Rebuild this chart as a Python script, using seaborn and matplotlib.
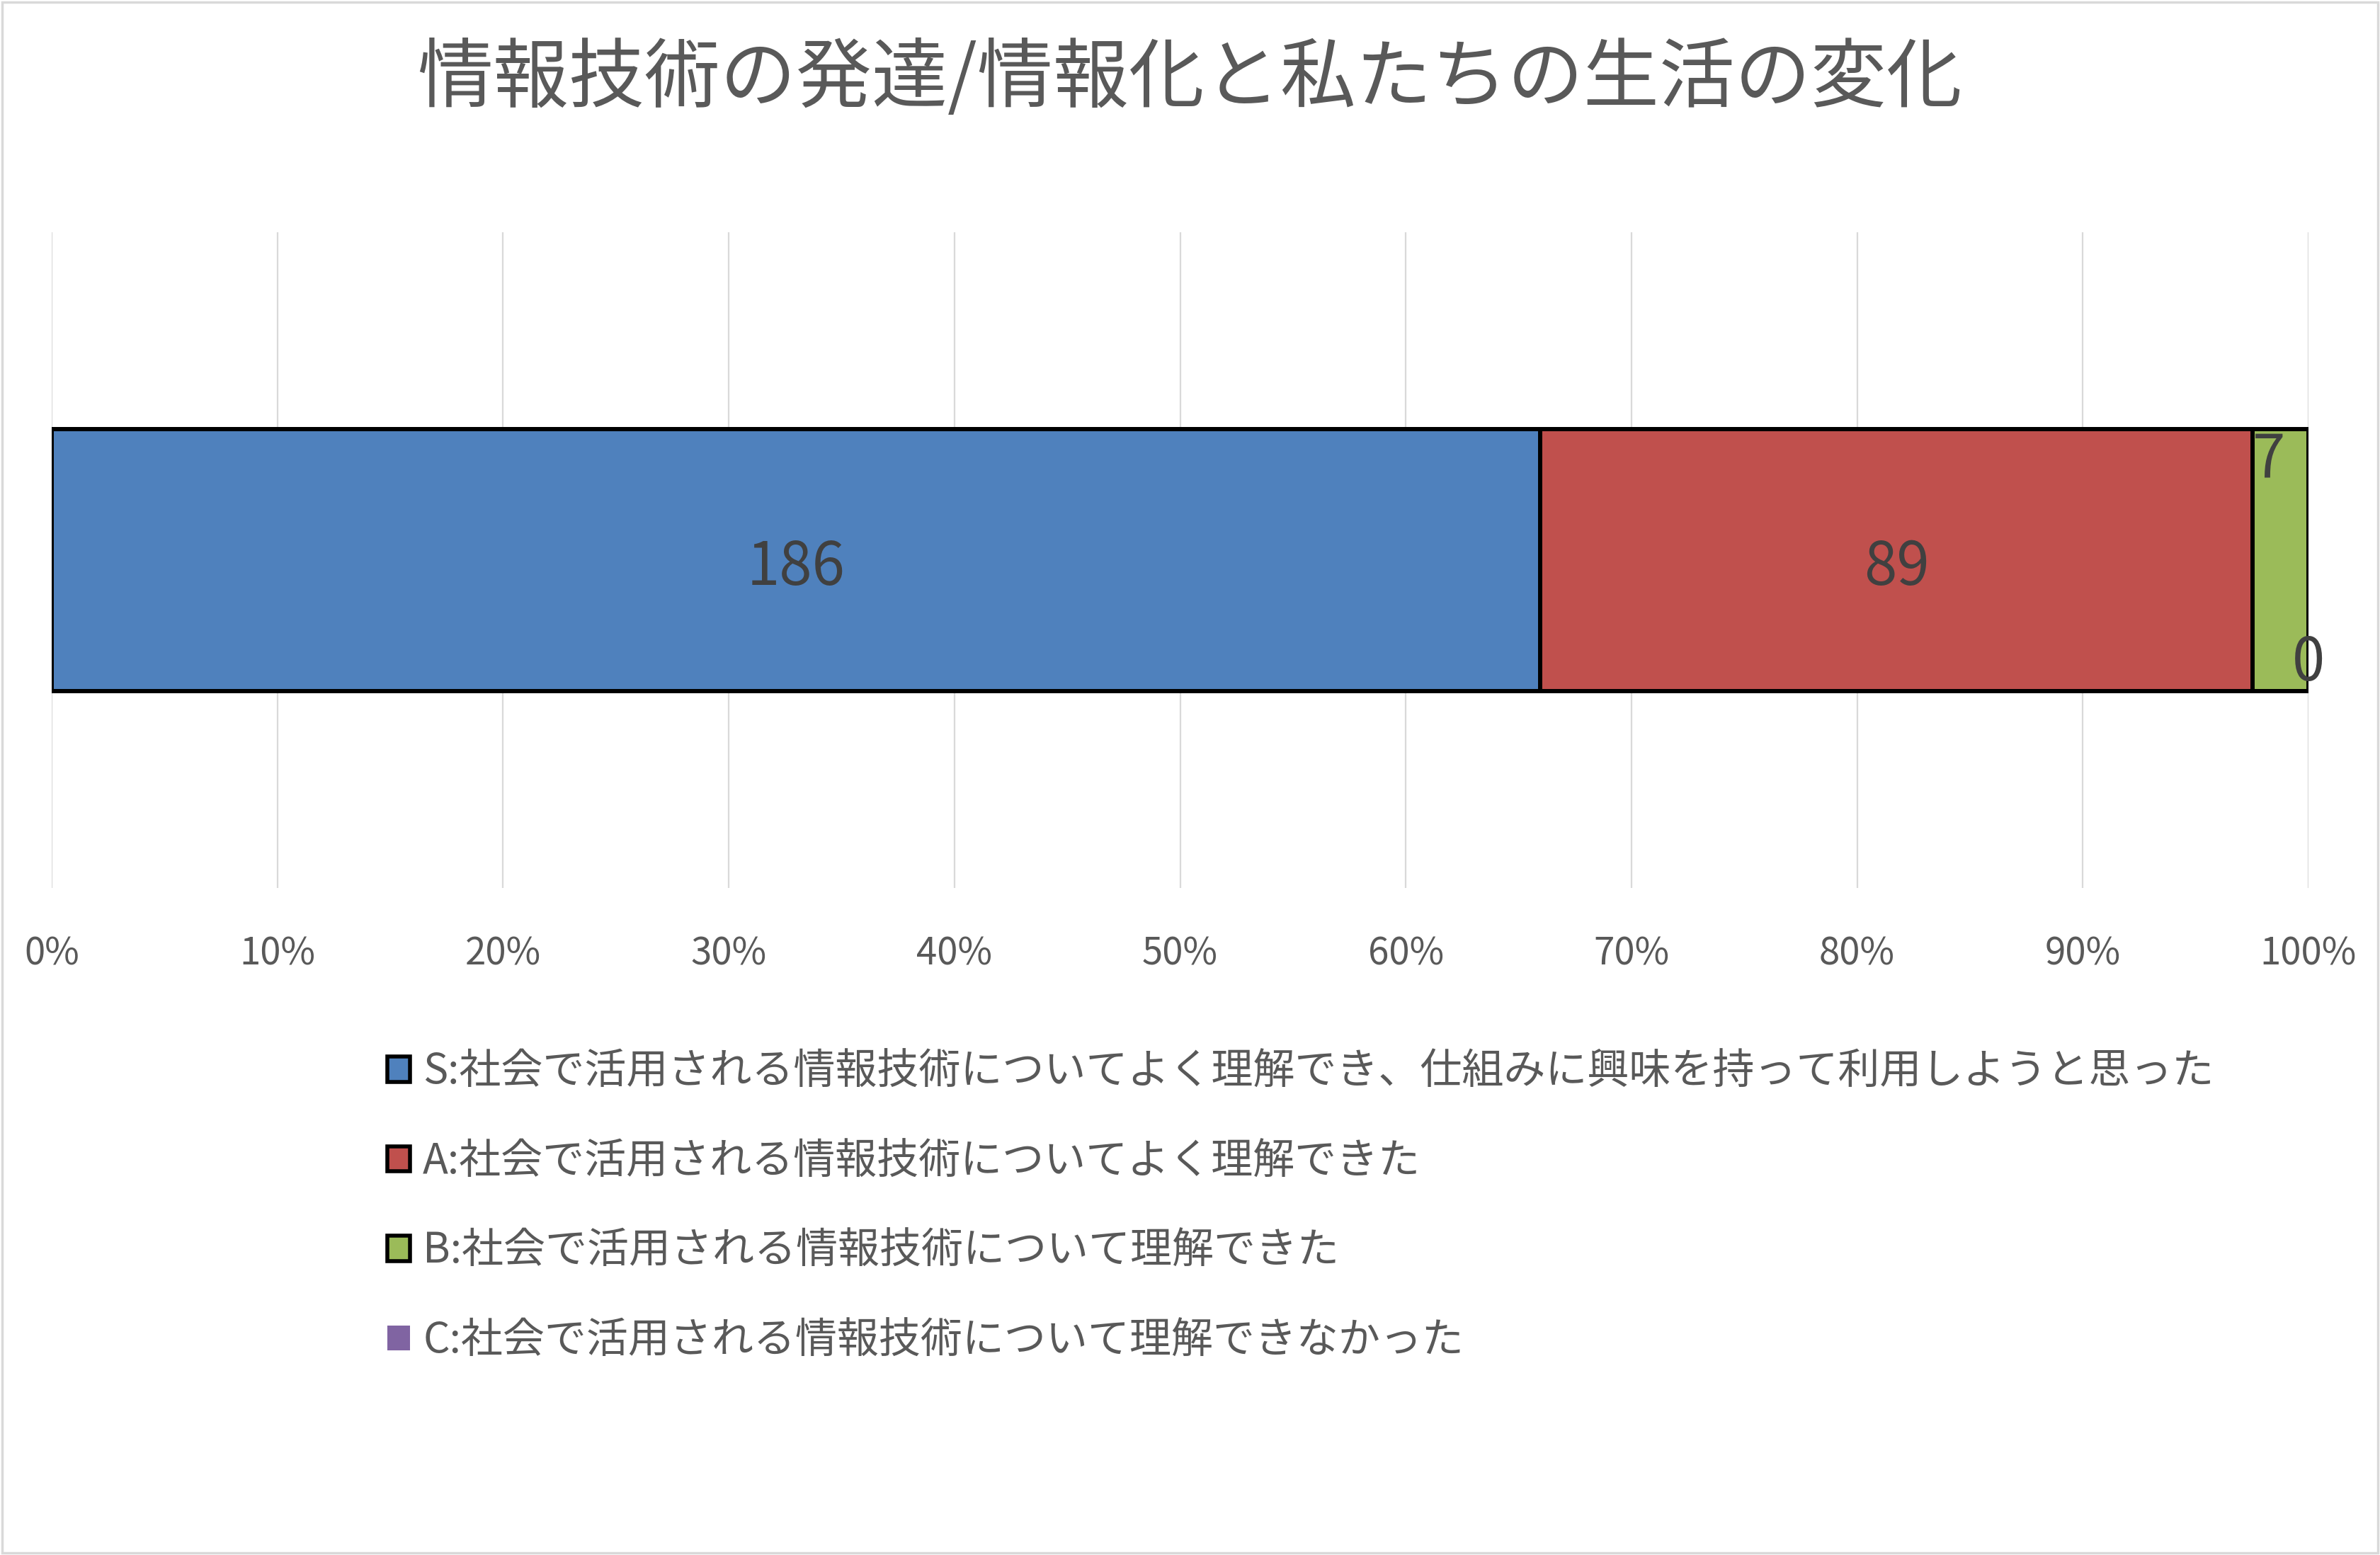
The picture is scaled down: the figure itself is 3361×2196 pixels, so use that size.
import matplotlib
matplotlib.use("Agg")
import matplotlib.pyplot as plt
import matplotlib.patches as mpatches
from matplotlib.ticker import PercentFormatter
import seaborn as sns
import numpy as np
import pandas as pd

# ---- data ----
title = "情報技術の発達/情報化と私たちの生活の変化"
series_labels = [
    "S:社会で活用される情報技術についてよく理解でき、仕組みに興味を持って利用しようと思った",
    "A:社会で活用される情報技術についてよく理解できた",
    "B:社会で活用される情報技術について理解できた",
    "C:社会で活用される情報技術について理解できなかった",
]
counts = [186, 89, 7, 0]
colors = ["#4F81BD", "#C0504D", "#9BBB59", "#8064A2"]
tick_values = [0, 10, 20, 30, 40, 50, 60, 70, 80, 90, 100]

sns.set_theme(style="white")
plt.rcParams["font.family"] = ["Noto Sans CJK JP", "DejaVu Sans"]

W, H, DPI = 3361, 2196, 100
fig = plt.figure(figsize=(W / DPI, H / DPI), dpi=DPI)
fig.patch.set_facecolor("white")

ax = fig.add_axes([73 / W, 1 - 1254 / H, (3260 - 73) / W, (1254 - 328) / H])

total = sum(counts)
props = np.array(counts) / total
cum = np.cumsum(props)
starts = cum - props

df = pd.DataFrame({"cat": [""] * len(counts), "cum": cum, "series": series_labels})

# draw cumulative bars from longest to shortest so they appear stacked
for i in reversed(range(len(counts))):
    sub = df.iloc[[i]]
    has_edge = counts[i] > 0
    sns.barplot(data=sub, x="cum", y="cat", orient="h", color=colors[i],
                saturation=1, width=0.4, ax=ax,
                edgecolor="black" if has_edge else "none",
                linewidth=4.3 if has_edge else 0)

ax.set_ylim(0.5, -0.5)
ax.set_xlim(0, 1)
ax.set_xticks(np.array(tick_values) / 100)
ax.xaxis.set_major_formatter(PercentFormatter(1.0, decimals=0))
ax.tick_params(axis="x", length=0, pad=47, labelsize=38, labelcolor="#595959")
ax.set_yticks([])
ax.set_xlabel("")
ax.set_ylabel("")
ax.grid(axis="x", color="#D9D9D9", linewidth=1.6)
ax.grid(axis="y", visible=False)
ax.set_axisbelow(True)
for s in ax.spines.values():
    s.set_visible(False)

# data labels
lab_color = "#404040"
ax.text(starts[0] + props[0] / 2, 0.012, str(counts[0]), ha="center", va="center",
        fontsize=60, color=lab_color)
ax.text(starts[1] + props[1] / 2, 0.012, str(counts[1]), ha="center", va="center",
        fontsize=60, color=lab_color)
ax.text(starts[2], -0.2, str(counts[2]), ha="left", va="top",
        fontsize=60, color=lab_color)
ax.text(starts[3], 0.157, str(counts[3]), ha="center", va="center",
        fontsize=60, color=lab_color)

# title
fig.text(0.5, 1 - 113 / H, title, ha="center", va="center", fontsize=77, color="#595959")

# legend
handles = []
for i in range(len(counts)):
    has_edge = counts[i] > 0
    handles.append(mpatches.Patch(facecolor=colors[i],
                                  edgecolor="black" if has_edge else "none",
                                  linewidth=4 if has_edge else 0))
leg = fig.legend(handles, series_labels, loc="upper left",
                 bbox_to_anchor=(547 / W, 1 - 1484 / H), frameon=False,
                 fontsize=42.5, handlelength=0.55, handleheight=0.55,
                 handletextpad=0.3, labelspacing=1.11, borderaxespad=0, borderpad=0)
for t in leg.get_texts():
    t.set_color("#595959")

# chart border
fig.add_artist(mpatches.Rectangle((0.0008, 0.0012), 0.9984, 0.9976, transform=fig.transFigure,
                                  fill=False, edgecolor="#D9D9D9", linewidth=2.5))

fig.savefig("out.png", dpi=DPI)
